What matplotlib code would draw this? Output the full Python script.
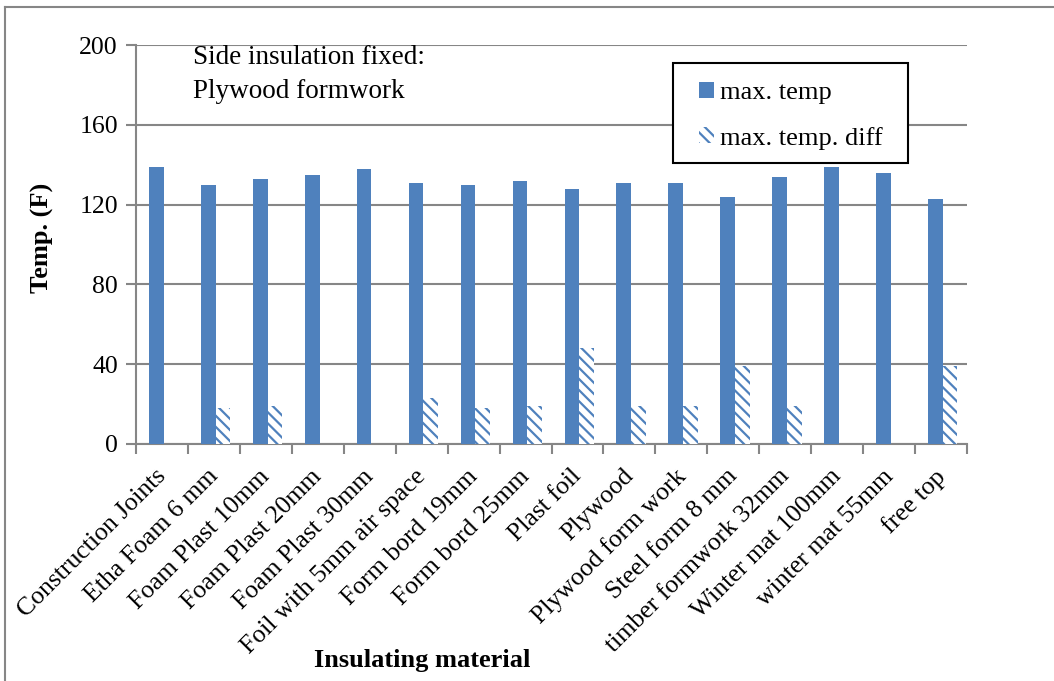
import matplotlib
matplotlib.use("Agg")
import matplotlib.pyplot as plt
import numpy as np
from matplotlib.patches import Rectangle
from matplotlib.lines import Line2D
from matplotlib.transforms import ScaledTranslation

categories = ["Construction Joints", "Etha Foam 6 mm", "Foam Plast 10mm", "Foam Plast 20mm",
              "Foam Plast 30mm", "Foil with 5mm air space", "Form bord 19mm", "Form bord 25mm",
              "Plast foil", "Plywood", "Plywood form work", "Steel form 8 mm",
              "timber formwork 32mm", "Winter mat 100mm", "winter mat 55mm", "free top"]
max_temp = [139, 130, 133, 135, 138, 131, 130, 132, 128, 131, 131, 124, 134, 139, 136, 123]
max_temp_diff = [0, 18, 19, 0, 0, 23, 18, 19, 48, 19, 19, 39, 19, 0, 0, 39]
yticks = [0, 40, 80, 120, 160, 200]

plt.rcParams['font.family'] = ['Liberation Serif', 'DejaVu Serif']
plt.rcParams['hatch.linewidth'] = 1.6

W, H = 1054, 681
fig = plt.figure(figsize=(W / 100, H / 100), dpi=100)
ax = fig.add_axes([136 / W, 1 - 444 / H, (967 - 136) / W, (444 - 45) / H])

blue = '#4F81BD'
grid = '#868686'
x = np.arange(len(categories))
bw = 0.283
ax.bar(x - 0.108, max_temp, bw, color=blue, zorder=3, label='max. temp')
ax.bar(x + 0.175, max_temp_diff, bw, facecolor='white', edgecolor=blue, hatch='\\\\\\',
       linewidth=0, zorder=3, label='max. temp. diff')

ax.set_xlim(-0.5, len(categories) - 0.5)
ax.set_ylim(0, 200)
ax.set_yticks(yticks)
ax.set_yticklabels([str(v) for v in yticks], fontsize=18.5)
ax.yaxis.grid(True, color=grid, linewidth=1.5, zorder=0)
ax.set_axisbelow(True)

ax.set_xticks(np.arange(len(categories) + 1) - 0.5)
ax.set_xticklabels([])
ax.set_xticks(x, minor=True)
ax.set_xticklabels(categories, minor=True, rotation=45, ha='right', va='top',
                   rotation_mode='anchor', fontsize=18.5)
ax.tick_params(axis='x', which='minor', length=0, pad=8)
ax.tick_params(axis='x', which='major', length=7, width=1.5, color=grid, direction='out')
ax.tick_params(axis='y', length=7, width=1.5, color=grid, direction='out', pad=6)
shift = ScaledTranslation(-7 / 100, -10 / 100, fig.dpi_scale_trans)
for lab in ax.get_xticklabels(minor=True):
    lab.set_transform(lab.get_transform() + shift)

for s in ['top', 'right']:
    ax.spines[s].set_visible(False)
for s in ['left', 'bottom']:
    ax.spines[s].set_color(grid)
    ax.spines[s].set_linewidth(1.5)

fig.text(42 / W, 1 - 238 / H, 'Temp. (F)', fontsize=19, fontweight='bold',
         ha='center', va='center', rotation=90)
fig.text(422 / W, 1 - 660 / H, 'Insulating material', fontsize=19, fontweight='bold',
         ha='center', va='center')

ax.text(193 / W, 1 - 58 / H, 'Side insulation fixed:', transform=fig.transFigure,
        fontsize=19.5, ha='left', va='center')
ax.text(193 / W, 1 - 92 / H, 'Plywood formwork', transform=fig.transFigure,
        fontsize=19.5, ha='left', va='center')

frame = Rectangle((673 / W, 1 - 163 / H), (908 - 673) / W, 100 / H,
                  transform=fig.transFigure, facecolor='white', edgecolor='black',
                  linewidth=1.5, zorder=4, clip_on=False)
ax.add_patch(frame)
leg = ax.legend(loc='upper left', bbox_to_anchor=(699 / W, 1 - 82 / H),
                bbox_transform=fig.transFigure, borderaxespad=0, borderpad=0, fontsize=19,
                frameon=False, handlelength=0.55, handleheight=0.55, handletextpad=0.25,
                labelspacing=0.85)
leg.set_zorder(5)

fig.add_artist(Line2D([5 / W, 5 / W], [0, 1 - 7 / H], color=grid, linewidth=1.5,
                      transform=fig.transFigure))
fig.add_artist(Line2D([5 / W, 1], [1 - 7 / H, 1 - 7 / H], color=grid, linewidth=1.5,
                      transform=fig.transFigure))

fig.savefig('out.png', dpi=100)
